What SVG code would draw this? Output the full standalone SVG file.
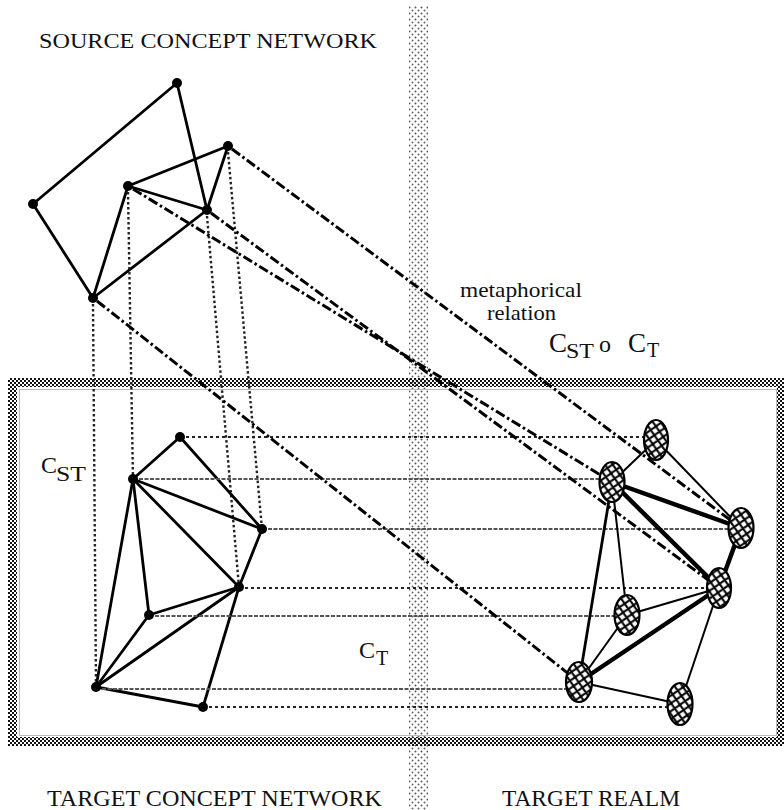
<svg xmlns="http://www.w3.org/2000/svg" width="784" height="810" viewBox="0 0 784 810">
<defs>
<pattern id="checker" width="4" height="4" patternUnits="userSpaceOnUse">
<rect x="0" y="0" width="2" height="2" fill="#111"/>
<rect x="2" y="2" width="2" height="2" fill="#111"/>
</pattern>
<pattern id="stipple" width="6" height="6" patternUnits="userSpaceOnUse">
<circle cx="1.5" cy="1.5" r="1" fill="#555"/>
<circle cx="4.5" cy="4.5" r="1" fill="#666"/>
</pattern>
<pattern id="weave" width="9" height="9" patternUnits="userSpaceOnUse" patternTransform="rotate(10)">
<rect width="9" height="9" fill="#fff"/>
<path d="M0,0 L9,9 M9,0 L0,9 M-2,7 L2,11 M7,-2 L11,2 M7,11 L11,7 M-2,2 L2,-2" stroke="#000" stroke-width="2"/>
</pattern>
<style>
text { font-family: "Liberation Serif", "Times New Roman", serif; fill: #111; }
.edge { stroke: #000; stroke-width: 2.8; fill: none; stroke-linecap: round; }
.vdot { stroke: #222; stroke-width: 2.4; fill: none; stroke-dasharray: 2.5 2.5; }
.hdot { stroke: #222; stroke-width: 2.2; fill: none; stroke-dasharray: 3 3; }
.hfine { stroke: #555; stroke-width: 1.8; fill: none; stroke-dasharray: 4 1.5; }
.meta { stroke: #000; stroke-width: 3; fill: none; stroke-dasharray: 10 3 2.5 3; }
.rthin { stroke: #000; stroke-width: 2; fill: none; }
.rthick { stroke: #000; stroke-width: 4.5; fill: none; }
.dot { fill: #000; }
.realm { fill: url(#weave); stroke: #000; stroke-width: 2.2; }
</style>
</defs>
<rect width="784" height="810" fill="#fff"/>

<!-- vertical stippled band -->
<rect id="band" x="409" y="6" width="19" height="804" fill="url(#stipple)"/>

<!-- checkered frame -->
<path id="frame" d="M8,378 H790 V746 H8 Z M17,387 V737 H777 V387 Z" fill="url(#checker)" fill-rule="evenodd"/>
<rect x="19.5" y="389.5" width="757" height="346" fill="none" stroke="#bbb" stroke-width="1"/>

<g id="connectors">
<!-- source network edges -->
<line class="edge" x1="33" y1="204" x2="177" y2="83"/>
<line class="edge" x1="177" y1="83" x2="207" y2="210"/>
<line class="edge" x1="33" y1="204" x2="93" y2="298"/>
<line class="edge" x1="93" y1="298" x2="207" y2="210"/>
<line class="edge" x1="93" y1="298" x2="128" y2="186"/>
<line class="edge" x1="128" y1="186" x2="228" y2="146"/>
<line class="edge" x1="128" y1="186" x2="207" y2="210"/>
<line class="edge" x1="228" y1="146" x2="207" y2="210"/>
<!-- source to target concept (dotted) -->
<line class="vdot" x1="93" y1="304" x2="96" y2="687"/>
<line class="vdot" x1="128" y1="192" x2="133" y2="479"/>
<line class="vdot" x1="207" y1="216" x2="239" y2="587"/>
<line class="vdot" x1="228" y1="152" x2="262" y2="529"/>
<!-- target concept edges -->
<line class="edge" x1="180" y1="437" x2="133" y2="479"/>
<line class="edge" x1="180" y1="437" x2="262" y2="529"/>
<line class="edge" x1="133" y1="479" x2="262" y2="529"/>
<line class="edge" x1="133" y1="479" x2="239" y2="587"/>
<line class="edge" x1="133" y1="479" x2="149" y2="615"/>
<line class="edge" x1="133" y1="479" x2="96" y2="687"/>
<line class="edge" x1="262" y1="529" x2="239" y2="587"/>
<line class="edge" x1="239" y1="587" x2="149" y2="615"/>
<line class="edge" x1="239" y1="587" x2="96" y2="687"/>
<line class="edge" x1="149" y1="615" x2="96" y2="687"/>
<line class="edge" x1="96" y1="687" x2="203" y2="707"/>
<line class="edge" x1="203" y1="707" x2="239" y2="587"/>
<!-- concept to realm (horizontal) -->
<line class="hdot" x1="186" y1="437" x2="650" y2="437"/>
<line class="hfine" x1="139" y1="479" x2="605" y2="479"/>
<line class="hfine" x1="268" y1="529" x2="735" y2="529"/>
<line class="hdot" x1="245" y1="588" x2="712" y2="588"/>
<line class="hfine" x1="155" y1="616" x2="620" y2="616"/>
<line class="hfine" x1="102" y1="689" x2="572" y2="689"/>
<line class="hdot" x1="209" y1="707" x2="672" y2="707"/>
<!-- metaphorical relation (source to realm) -->
<line class="meta" x1="232" y1="149" x2="741" y2="528"/>
<line class="meta" x1="133" y1="189" x2="612" y2="482"/>
<line class="meta" x1="211" y1="213" x2="719" y2="588"/>
<line class="meta" x1="97" y1="301" x2="579" y2="682"/>
<!-- realm edges -->
<line class="rthin" x1="656" y1="440" x2="612" y2="482"/>
<line class="rthin" x1="656" y1="440" x2="741" y2="528"/>
<line class="rthick" x1="612" y1="482" x2="741" y2="528"/>
<line class="rthick" x1="612" y1="482" x2="719" y2="588"/>
<line class="edge" x1="612" y1="482" x2="579" y2="682" stroke-width="3.2"/>
<line class="rthin" x1="612" y1="482" x2="627" y2="615"/>
<line class="rthick" x1="741" y1="528" x2="719" y2="588"/>
<line class="rthin" x1="719" y1="588" x2="627" y2="615"/>
<line class="rthick" x1="719" y1="588" x2="579" y2="682"/>
<line class="rthin" x1="719" y1="588" x2="680" y2="704"/>
<line class="rthin" x1="627" y1="615" x2="579" y2="682"/>
<line class="rthin" x1="579" y1="682" x2="680" y2="704"/>
</g>

<!-- source concept nodes -->
<g id="sA"><circle class="dot" cx="177" cy="83" r="5"/></g>
<g id="sB"><circle class="dot" cx="228" cy="146" r="5"/></g>
<g id="sC"><circle class="dot" cx="128" cy="186" r="5"/></g>
<g id="sD"><circle class="dot" cx="207" cy="210" r="5"/></g>
<g id="sE"><circle class="dot" cx="33" cy="204" r="5"/></g>
<g id="sF"><circle class="dot" cx="93" cy="298" r="5"/></g>

<!-- target concept nodes -->
<g id="ta"><circle class="dot" cx="180" cy="437" r="5"/></g>
<g id="tb"><circle class="dot" cx="133" cy="479" r="5"/></g>
<g id="tc"><circle class="dot" cx="262" cy="529" r="5"/></g>
<g id="td"><circle class="dot" cx="239" cy="587" r="5"/></g>
<g id="te"><circle class="dot" cx="149" cy="615" r="5"/></g>
<g id="tf"><circle class="dot" cx="96" cy="687" r="5"/></g>
<g id="tg"><circle class="dot" cx="203" cy="707" r="5"/></g>

<!-- target realm nodes -->
<g id="r1"><ellipse class="realm" cx="656" cy="440" rx="12" ry="20"/></g>
<g id="r2"><ellipse class="realm" cx="612" cy="482" rx="12.5" ry="20"/></g>
<g id="r3"><ellipse class="realm" cx="741" cy="528" rx="12.5" ry="20"/></g>
<g id="r4"><ellipse class="realm" cx="719" cy="588" rx="12" ry="20"/></g>
<g id="r5"><ellipse class="realm" cx="627" cy="615" rx="12.5" ry="20"/></g>
<g id="r6"><ellipse class="realm" cx="579" cy="682" rx="13" ry="20"/></g>
<g id="r7"><ellipse class="realm" cx="680" cy="704" rx="12.5" ry="21"/></g>

<!-- labels -->
<g id="labels">
<text x="39" y="48" font-size="22" textLength="338" lengthAdjust="spacingAndGlyphs">SOURCE CONCEPT NETWORK</text>
<text x="47" y="806" font-size="23" textLength="335" lengthAdjust="spacingAndGlyphs">TARGET CONCEPT NETWORK</text>
<text x="502" y="806" font-size="23" textLength="178" lengthAdjust="spacingAndGlyphs">TARGET REALM</text>
<text x="460" y="297" font-size="21" textLength="122" lengthAdjust="spacingAndGlyphs">metaphorical</text>
<text x="487" y="320" font-size="21" textLength="69" lengthAdjust="spacingAndGlyphs">relation</text>
<text x="549" y="352" font-size="27">C</text>
<text x="566" y="358" font-size="20" textLength="28" lengthAdjust="spacingAndGlyphs">ST</text>
<text x="599" y="352" font-size="24">o</text>
<text x="628" y="352" font-size="27">C</text>
<text x="647" y="357" font-size="20">T</text>
<text x="41" y="473" font-size="24">C</text>
<text x="56" y="481" font-size="20" textLength="30" lengthAdjust="spacingAndGlyphs">ST</text>
<text x="359" y="658" font-size="24">C</text>
<text x="376" y="665" font-size="20">T</text>
</g>
</svg>
